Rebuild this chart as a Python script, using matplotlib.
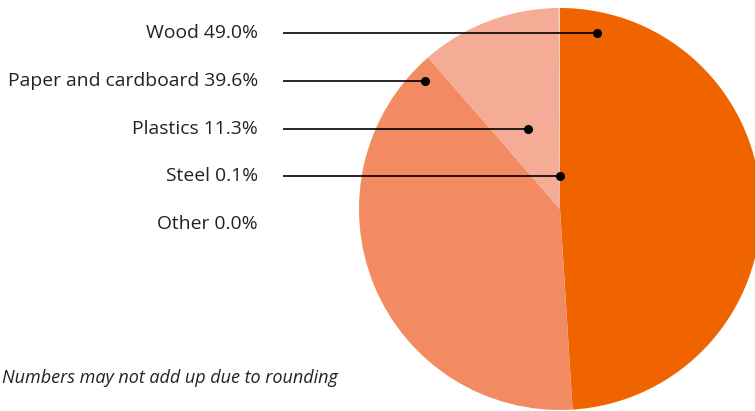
import numpy as np
import matplotlib.pyplot as plt

categories = ["Wood", "Paper and cardboard", "Plastics", "Steel", "Other"]
shares = [49.0, 39.6, 11.3, 0.1, 0.0]
colors = ["#f06400", "#f28b62", "#f5ac96", "#f9d3c5", "#fce8e0"]

# anchor point of each label's leader line, as (angle in degrees, fraction of radius)
anchors = [(78.2, 0.90), (136.3, 0.93), (111.6, 0.43), (90.0, 0.165), None]

W, H = 755, 411
fig = plt.figure(figsize=(W / 100, H / 100), dpi=100)
ax = fig.add_axes([0, 0, 1, 1])

cx, cy, r = 560, 202, 201
ax.pie(shares, colors=colors, startangle=90, counterclock=False,
       center=(cx, cy), radius=r, wedgeprops=dict(linewidth=0))
ax.set_xlim(0, W)
ax.set_ylim(0, H)
ax.set_aspect("equal")
ax.axis("off")

font = "Open Sans"
label_y0, step = H - 33, 47.8
for i, (cat, val) in enumerate(zip(categories, shares)):
    y = label_y0 - i * step
    ax.text(258, y, f"{cat} {val:.1f}%", ha="right", va="center",
            fontsize=13.9, family=font, color="#222222")
    if anchors[i] is not None:
        ang, frac = anchors[i]
        px = cx + frac * r * np.cos(np.radians(ang))
        ax.plot([283, px], [y, y], color="black", lw=1.2, solid_capstyle="butt")
        ax.plot(px, y, "o", color="black", ms=5.5)

ax.text(2, H - 378, "Numbers may not add up due to rounding", ha="left", va="center",
        fontsize=12.95, style="italic", family=font, color="#222222")

fig.savefig("out.png", dpi=100)
